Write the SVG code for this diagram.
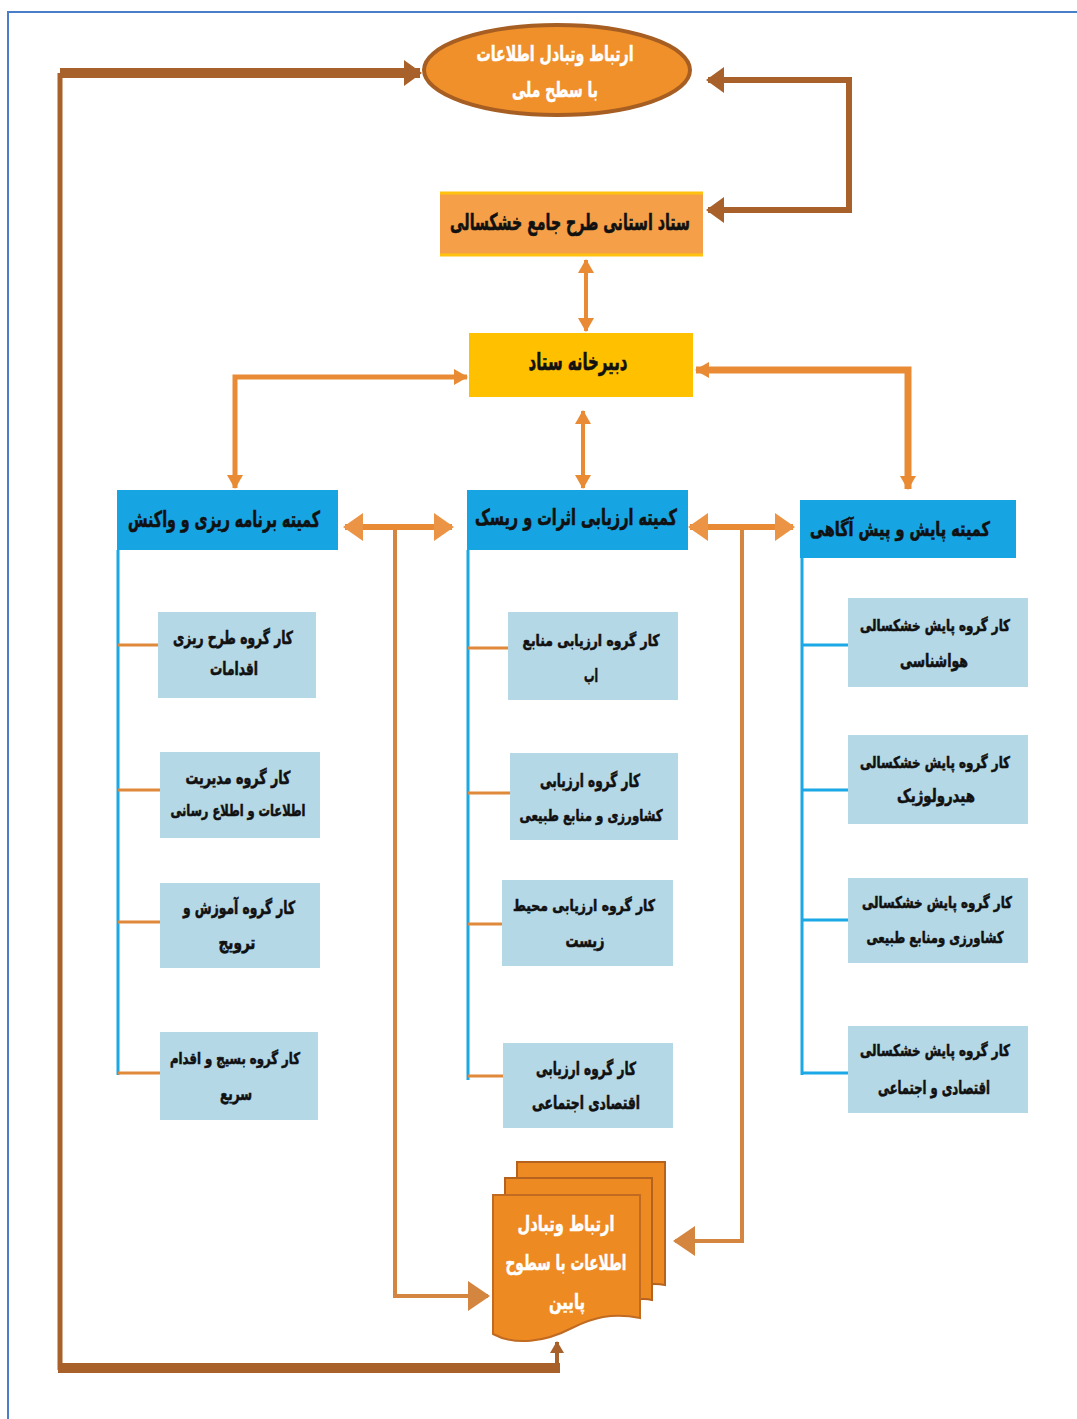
<svg xmlns="http://www.w3.org/2000/svg" width="1077" height="1419" viewBox="0 0 1077 1419">
<defs>
<style>
text{font-family:"DejaVu Sans",sans-serif;font-weight:bold;text-anchor:middle;dominant-baseline:central}
.w{fill:#ffffff;stroke:#ffffff;stroke-width:0.5}
.k{fill:#111111;stroke:#111111;stroke-width:0.6}
.hd{font-size:22px}
.sb{font-size:18px}
.sm{font-size:16px}
.sub{fill:#B5D8E7}
.head{fill:#17A4E2}
.bl{stroke:#1BA8E6;stroke-width:3;fill:none}
.ol{stroke:#E0893A;stroke-width:3;fill:none}
.br{stroke:#A8612A;fill:none}
.or{stroke:#E98B35;fill:none}
.or2{stroke:#D4853F;fill:none}
</style>
<marker id="mb" markerUnits="userSpaceOnUse" markerWidth="18" markerHeight="26" refX="16" refY="13" orient="auto-start-reverse"><path d="M0,0 L18,13 L0,26 z" fill="#A8612A"/></marker>
<marker id="mbs" markerUnits="userSpaceOnUse" markerWidth="12" markerHeight="14" refX="11" refY="7" orient="auto-start-reverse"><path d="M0,0 L12,7 L0,14 z" fill="#A8612A"/></marker>
<marker id="mo" markerUnits="userSpaceOnUse" markerWidth="14" markerHeight="16" refX="13" refY="8" orient="auto-start-reverse"><path d="M0,0 L14,8 L0,16 z" fill="#E98B35"/></marker>
<marker id="mol" markerUnits="userSpaceOnUse" markerWidth="20" markerHeight="28" refX="18" refY="14" orient="auto-start-reverse"><path d="M0,0 L20,14 L0,28 z" fill="#EC9445"/></marker>
<marker id="mo2" markerUnits="userSpaceOnUse" markerWidth="22" markerHeight="30" refX="20" refY="15" orient="auto-start-reverse"><path d="M0,0 L22,15 L0,30 z" fill="#D4853F"/></marker>
</defs>
<rect width="1077" height="1419" fill="#ffffff"/>
<path d="M8,1419 V12 H1077" fill="none" stroke="#4A7EC8" stroke-width="2"/>

<g id="connectors">
  <path class="br" stroke-width="10" d="M60,73 H420" marker-end="url(#mb)"/>
  <path class="br" stroke-width="5" d="M60,73 V1370"/>
  <path class="br" stroke-width="10" d="M58,1368 H560"/>
  <path class="br" stroke-width="4" d="M557,1368 V1342" marker-end="url(#mbs)"/>
  <path class="br" stroke-width="6" d="M708,80 H849 V210 H708" marker-start="url(#mb)" marker-end="url(#mb)"/>
  <path class="or" stroke-width="4" d="M586,260 V331" marker-start="url(#mo)" marker-end="url(#mo)"/>
  <path class="or" stroke-width="4" d="M583,411 V488" marker-start="url(#mo)" marker-end="url(#mo)"/>
  <path class="or" stroke-width="5" d="M235,488 V377 H467" marker-start="url(#mo)" marker-end="url(#mo)"/>
  <path class="or" stroke-width="7" d="M908,489 V370 H696" marker-start="url(#mo)" marker-end="url(#mo)"/>
  <path class="or" stroke-width="6" d="M345,527 H452" marker-start="url(#mol)" marker-end="url(#mol)"/>
  <path class="or" stroke-width="6" d="M690,527 H793" marker-start="url(#mol)" marker-end="url(#mol)"/>
  <path class="or2" stroke-width="4" d="M395,530 V1296 H488" marker-end="url(#mo2)"/>
  <path class="or2" stroke-width="4" d="M742,530 V1241 H675" marker-end="url(#mo2)"/>
  <path class="bl" d="M118,550 V1075"/>
  <path class="bl" d="M468,550 V1080"/>
  <path class="bl" d="M802,558 V1075"/>
  <path class="ol" d="M118,645 H160 M118,790 H162 M118,922 H162 M118,1073 H162"/>
  <path class="ol" d="M468,648 H510 M468,793 H512 M468,924 H504 M468,1076 H505"/>
  <path class="bl" d="M802,645 H848 M802,790 H848 M802,920 H848 M802,1073 H848"/>
</g>

<g id="national">
  <ellipse cx="557" cy="70" rx="133" ry="45" fill="#F0902A" stroke="#A65E22" stroke-width="4"/>
  <text class="w" x="555" y="54" font-size="21" textLength="157" lengthAdjust="spacingAndGlyphs">ارتباط وتبادل اطلاعات</text>
  <text class="w" x="555" y="90" font-size="21" textLength="86" lengthAdjust="spacingAndGlyphs">با سطح ملی</text>
</g>

<g id="provincial">
  <rect x="440" y="192" width="263" height="64" fill="#F5A048"/>
  <path d="M440,193 H703 M440,255 H703" stroke="#FFC20E" stroke-width="3"/>
  <text class="k" x="570" y="222" font-size="23" textLength="240" lengthAdjust="spacingAndGlyphs">ستاد استانی طرح جامع خشکسالی</text>
</g>

<g id="secretariat">
  <rect x="469" y="333" width="224" height="64" fill="#FFC000"/>
  <text class="k" x="578" y="362" font-size="24" textLength="99" lengthAdjust="spacingAndGlyphs">دبیرخانه ستاد</text>
</g>

<g id="committee-planning">
  <rect class="head" x="117" y="490" width="221" height="60"/>
  <text class="k hd" x="224" y="519" textLength="192" lengthAdjust="spacingAndGlyphs">کمیته برنامه ریزی و واکنش</text>
</g>
<g id="committee-assessment">
  <rect class="head" x="467" y="490" width="221" height="60"/>
  <text class="k hd" x="576" y="517" textLength="202" lengthAdjust="spacingAndGlyphs">کمیته ارزیابی اثرات و ریسک</text>
</g>
<g id="committee-monitoring">
  <rect class="head" x="800" y="500" width="216" height="58"/>
  <text class="k" x="900" y="529" font-size="20" textLength="180" lengthAdjust="spacingAndGlyphs">کمیته پایش و پیش آگاهی</text>
</g>

<g id="wg-l1">
  <rect class="sub" x="158" y="612" width="158" height="86"/>
  <text class="k sb" x="233" y="637" textLength="120" lengthAdjust="spacingAndGlyphs">کار گروه طرح ریزی</text>
  <text class="k sb" x="234" y="668" textLength="48" lengthAdjust="spacingAndGlyphs">اقدامات</text>
</g>
<g id="wg-l2">
  <rect class="sub" x="160" y="752" width="160" height="86"/>
  <text class="k sb" x="238" y="777" textLength="105" lengthAdjust="spacingAndGlyphs">کار گروه مدیریت</text>
  <text class="k sm" x="238" y="810" textLength="135" lengthAdjust="spacingAndGlyphs">اطلاعات و اطلاع رسانی</text>
</g>
<g id="wg-l3">
  <rect class="sub" x="160" y="883" width="160" height="85"/>
  <text class="k sb" x="239" y="907" textLength="112" lengthAdjust="spacingAndGlyphs">کار گروه آموزش و</text>
  <text class="k sb" x="237" y="942" textLength="37" lengthAdjust="spacingAndGlyphs">ترویج</text>
</g>
<g id="wg-l4">
  <rect class="sub" x="160" y="1032" width="158" height="88"/>
  <text class="k sm" x="235" y="1058" textLength="130" lengthAdjust="spacingAndGlyphs">کار گروه بسیج و اقدام</text>
  <text class="k sb" x="236" y="1093" textLength="32" lengthAdjust="spacingAndGlyphs">سریع</text>
</g>

<g id="wg-m1">
  <rect class="sub" x="508" y="612" width="170" height="88"/>
  <text class="k sm" x="591" y="640" textLength="137" lengthAdjust="spacingAndGlyphs">کار گروه ارزیابی منابع</text>
  <text class="k sb" x="591" y="675" textLength="14" lengthAdjust="spacingAndGlyphs">اب</text>
</g>
<g id="wg-m2">
  <rect class="sub" x="510" y="753" width="168" height="87"/>
  <text class="k sb" x="590" y="780" textLength="100" lengthAdjust="spacingAndGlyphs">کار گروه ارزیابی</text>
  <text class="k sm" x="591" y="815" textLength="143" lengthAdjust="spacingAndGlyphs">کشاورزی و منابع طبیعی</text>
</g>
<g id="wg-m3">
  <rect class="sub" x="502" y="880" width="171" height="86"/>
  <text class="k sm" x="584" y="905" textLength="142" lengthAdjust="spacingAndGlyphs">کار گروه ارزیابی محیط</text>
  <text class="k sb" x="585" y="940" textLength="39" lengthAdjust="spacingAndGlyphs">زیست</text>
</g>
<g id="wg-m4">
  <rect class="sub" x="503" y="1043" width="170" height="85"/>
  <text class="k sb" x="586" y="1068" textLength="100" lengthAdjust="spacingAndGlyphs">کار گروه ارزیابی</text>
  <text class="k sb" x="586" y="1102" textLength="108" lengthAdjust="spacingAndGlyphs">اقتصادی اجتماعی</text>
</g>

<g id="wg-r1">
  <rect class="sub" x="848" y="598" width="180" height="89"/>
  <text class="k sm" x="935" y="625" textLength="150" lengthAdjust="spacingAndGlyphs">کار گروه پایش خشکسالی</text>
  <text class="k sb" x="934" y="660" textLength="68" lengthAdjust="spacingAndGlyphs">هواشناسی</text>
</g>
<g id="wg-r2">
  <rect class="sub" x="848" y="735" width="180" height="89"/>
  <text class="k sm" x="935" y="762" textLength="150" lengthAdjust="spacingAndGlyphs">کار گروه پایش خشکسالی</text>
  <text class="k sb" x="936" y="795" textLength="78" lengthAdjust="spacingAndGlyphs">هیدرولوژیک</text>
</g>
<g id="wg-r3">
  <rect class="sub" x="848" y="878" width="180" height="85"/>
  <text class="k sm" x="937" y="902" textLength="150" lengthAdjust="spacingAndGlyphs">کار گروه پایش خشکسالی</text>
  <text class="k sm" x="935" y="937" textLength="137" lengthAdjust="spacingAndGlyphs">کشاورزی ومنابع طبیعی</text>
</g>
<g id="wg-r4">
  <rect class="sub" x="848" y="1026" width="180" height="87"/>
  <text class="k sm" x="935" y="1050" textLength="150" lengthAdjust="spacingAndGlyphs">کار گروه پایش خشکسالی</text>
  <text class="k sb" x="934" y="1087" textLength="112" lengthAdjust="spacingAndGlyphs">اقتصادی و اجتماعی</text>
</g>

<g id="local">
  <path d="M517,1162 H665 V1285 C650,1282 640,1286 630,1290 H517 Z" fill="#EE8A22" stroke="#B5621F" stroke-width="2"/>
  <path d="M505,1178 H652 V1300 C640,1297 628,1301 618,1305 H505 Z" fill="#EE8A22" stroke="#B5621F" stroke-width="2"/>
  <path d="M493,1195 H640 V1318 C612,1312 592,1318 572,1328 C545,1342 515,1346 493,1334 Z" fill="#EE8A22" stroke="#C06A22" stroke-width="2"/>
  <text class="w" x="566" y="1224" font-size="21" textLength="97" lengthAdjust="spacingAndGlyphs">ارتباط وتبادل</text>
  <text class="w" x="566" y="1263" font-size="21" textLength="121" lengthAdjust="spacingAndGlyphs">اطلاعات با سطوح</text>
  <text class="w" x="567" y="1302" font-size="21" textLength="36" lengthAdjust="spacingAndGlyphs">پایین</text>
</g>
</svg>
